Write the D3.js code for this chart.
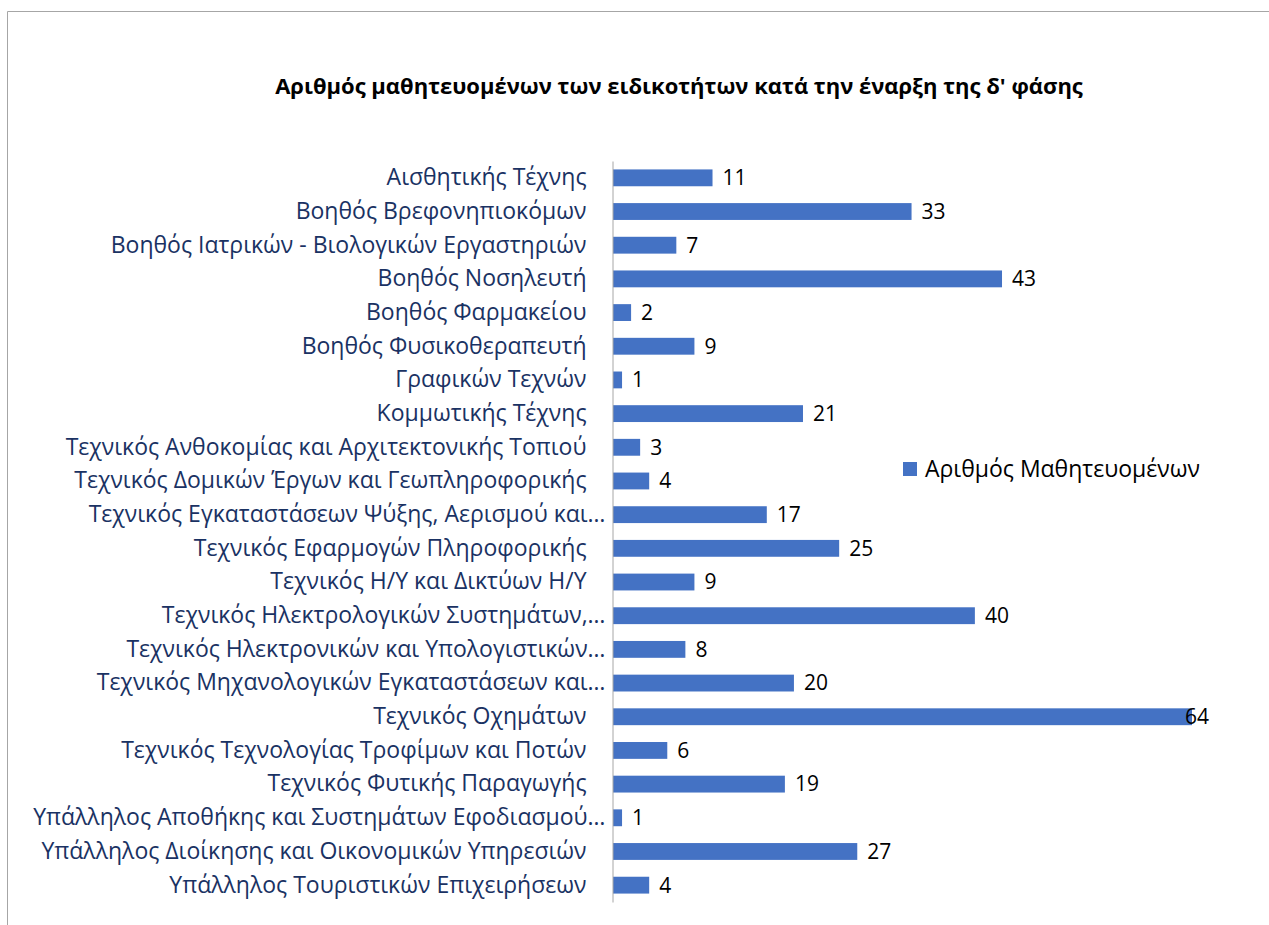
<!DOCTYPE html>
<html>
<head>
<meta charset="utf-8">
<script src="https://cdn.jsdelivr.net/npm/d3@7"></script>
<style>
	body { margin: 0; background: #fff; }
	svg { display: block; font-family: "Open Sans", "Noto Sans", sans-serif; }
</style>
</head>
<body>
<script>
	var categories = [
		'Αισθητικής Τέχνης',
		'Βοηθός Βρεφονηπιοκόμων',
		'Βοηθός Ιατρικών - Βιολογικών Εργαστηριών',
		'Βοηθός Νοσηλευτή',
		'Βοηθός Φαρμακείου',
		'Βοηθός Φυσικοθεραπευτή',
		'Γραφικών Τεχνών',
		'Κομμωτικής Τέχνης',
		'Τεχνικός Ανθοκομίας και Αρχιτεκτονικής Τοπιού',
		'Τεχνικός Δομικών Έργων και Γεωπληροφορικής',
		'Τεχνικός Εγκαταστάσεων Ψύξης, Αερισμού και…',
		'Τεχνικός Εφαρμογών Πληροφορικής',
		'Τεχνικός Η/Υ και Δικτύων Η/Υ',
		'Τεχνικός Ηλεκτρολογικών Συστημάτων,…',
		'Τεχνικός Ηλεκτρονικών και Υπολογιστικών…',
		'Τεχνικός Μηχανολογικών Εγκαταστάσεων και…',
		'Τεχνικός Οχημάτων',
		'Τεχνικός Τεχνολογίας Τροφίμων και Ποτών',
		'Τεχνικός Φυτικής Παραγωγής',
		'Υπάλληλος Αποθήκης και Συστημάτων Εφοδιασμού…',
		'Υπάλληλος Διοίκησης και Οικονομικών Υπηρεσιών',
		'Υπάλληλος Τουριστικών Επιχειρήσεων'
	];
	var values = [11, 33, 7, 43, 2, 9, 1, 21, 3, 4, 17, 25, 9, 40, 8, 20, 64, 6, 19, 1, 27, 4];
	var seriesName = 'Αριθμός Μαθητευομένων';
	var title = 'Αριθμός μαθητευομένων των ειδικοτήτων κατά την έναρξη της δ\' φάσης';

	var width = 1269,
		height = 925,
		barColor = '#4472C4',
		labelColor = '#1A3263';

	var svg = d3.select('body').append('svg')
		.attr('width', width)
		.attr('height', height);

	// frame (only top and left edges show in the picture)
	svg.append('path')
		.attr('d', 'M7.5,925V11.5H1269')
		.attr('fill', 'none')
		.attr('stroke', '#a6a6a6');

	svg.append('text')
		.attr('x', 679)
		.attr('y', 94)
		.attr('text-anchor', 'middle')
		.attr('font-size', 22)
		.attr('font-weight', 'bold')
		.attr('fill', '#000')
		.text(title);

	var x = d3.scaleLinear().domain([0, 64]).range([613, 1192]);
	var y = d3.scaleBand().domain(categories).range([161, 902])
		.paddingInner(0.5).paddingOuter(0.25);

	svg.selectAll('rect.bar')
		.data(values)
		.enter().append('rect')
		.attr('class', 'bar')
		.attr('x', x(0))
		.attr('y', function(d, i) { return y(categories[i]); })
		.attr('width', function(d) { return x(d) - x(0); })
		.attr('height', y.bandwidth())
		.attr('fill', barColor);

	var axis = svg.append('g')
		.attr('transform', 'translate(' + (x(0) - 0.5) + ',0)')
		.call(d3.axisLeft(y).tickSize(0).tickPadding(26));
	axis.select('.domain').attr('stroke', '#a6a6a6');
	axis.selectAll('text')
		.attr('font-family', '"Open Sans", sans-serif')
		.attr('font-size', 23)
		.attr('fill', labelColor)
		.attr('x', function(d) { return /…$/.test(d) ? -7 : -26; });

	// value labels; the last one is pulled back so it stays in the frame
	svg.selectAll('text.value')
		.data(values)
		.enter().append('text')
		.attr('class', 'value')
		.attr('x', function(d) { return Math.min(x(d) + 10, 1185); })
		.attr('y', function(d, i) { return y(categories[i]) + y.bandwidth() / 2; })
		.attr('dy', '0.35em')
		.attr('font-size', 21)
		.attr('fill', '#000')
		.text(function(d) { return d; });

	// legend
	var legend = svg.append('g').attr('transform', 'translate(903,462)');
	legend.append('rect')
		.attr('width', 14)
		.attr('height', 14)
		.attr('fill', barColor);
	legend.append('text')
		.attr('x', 22)
		.attr('y', 7)
		.attr('dy', '0.35em')
		.attr('font-size', 23)
		.attr('fill', '#000')
		.text(seriesName);
</script>
</body>
</html>
